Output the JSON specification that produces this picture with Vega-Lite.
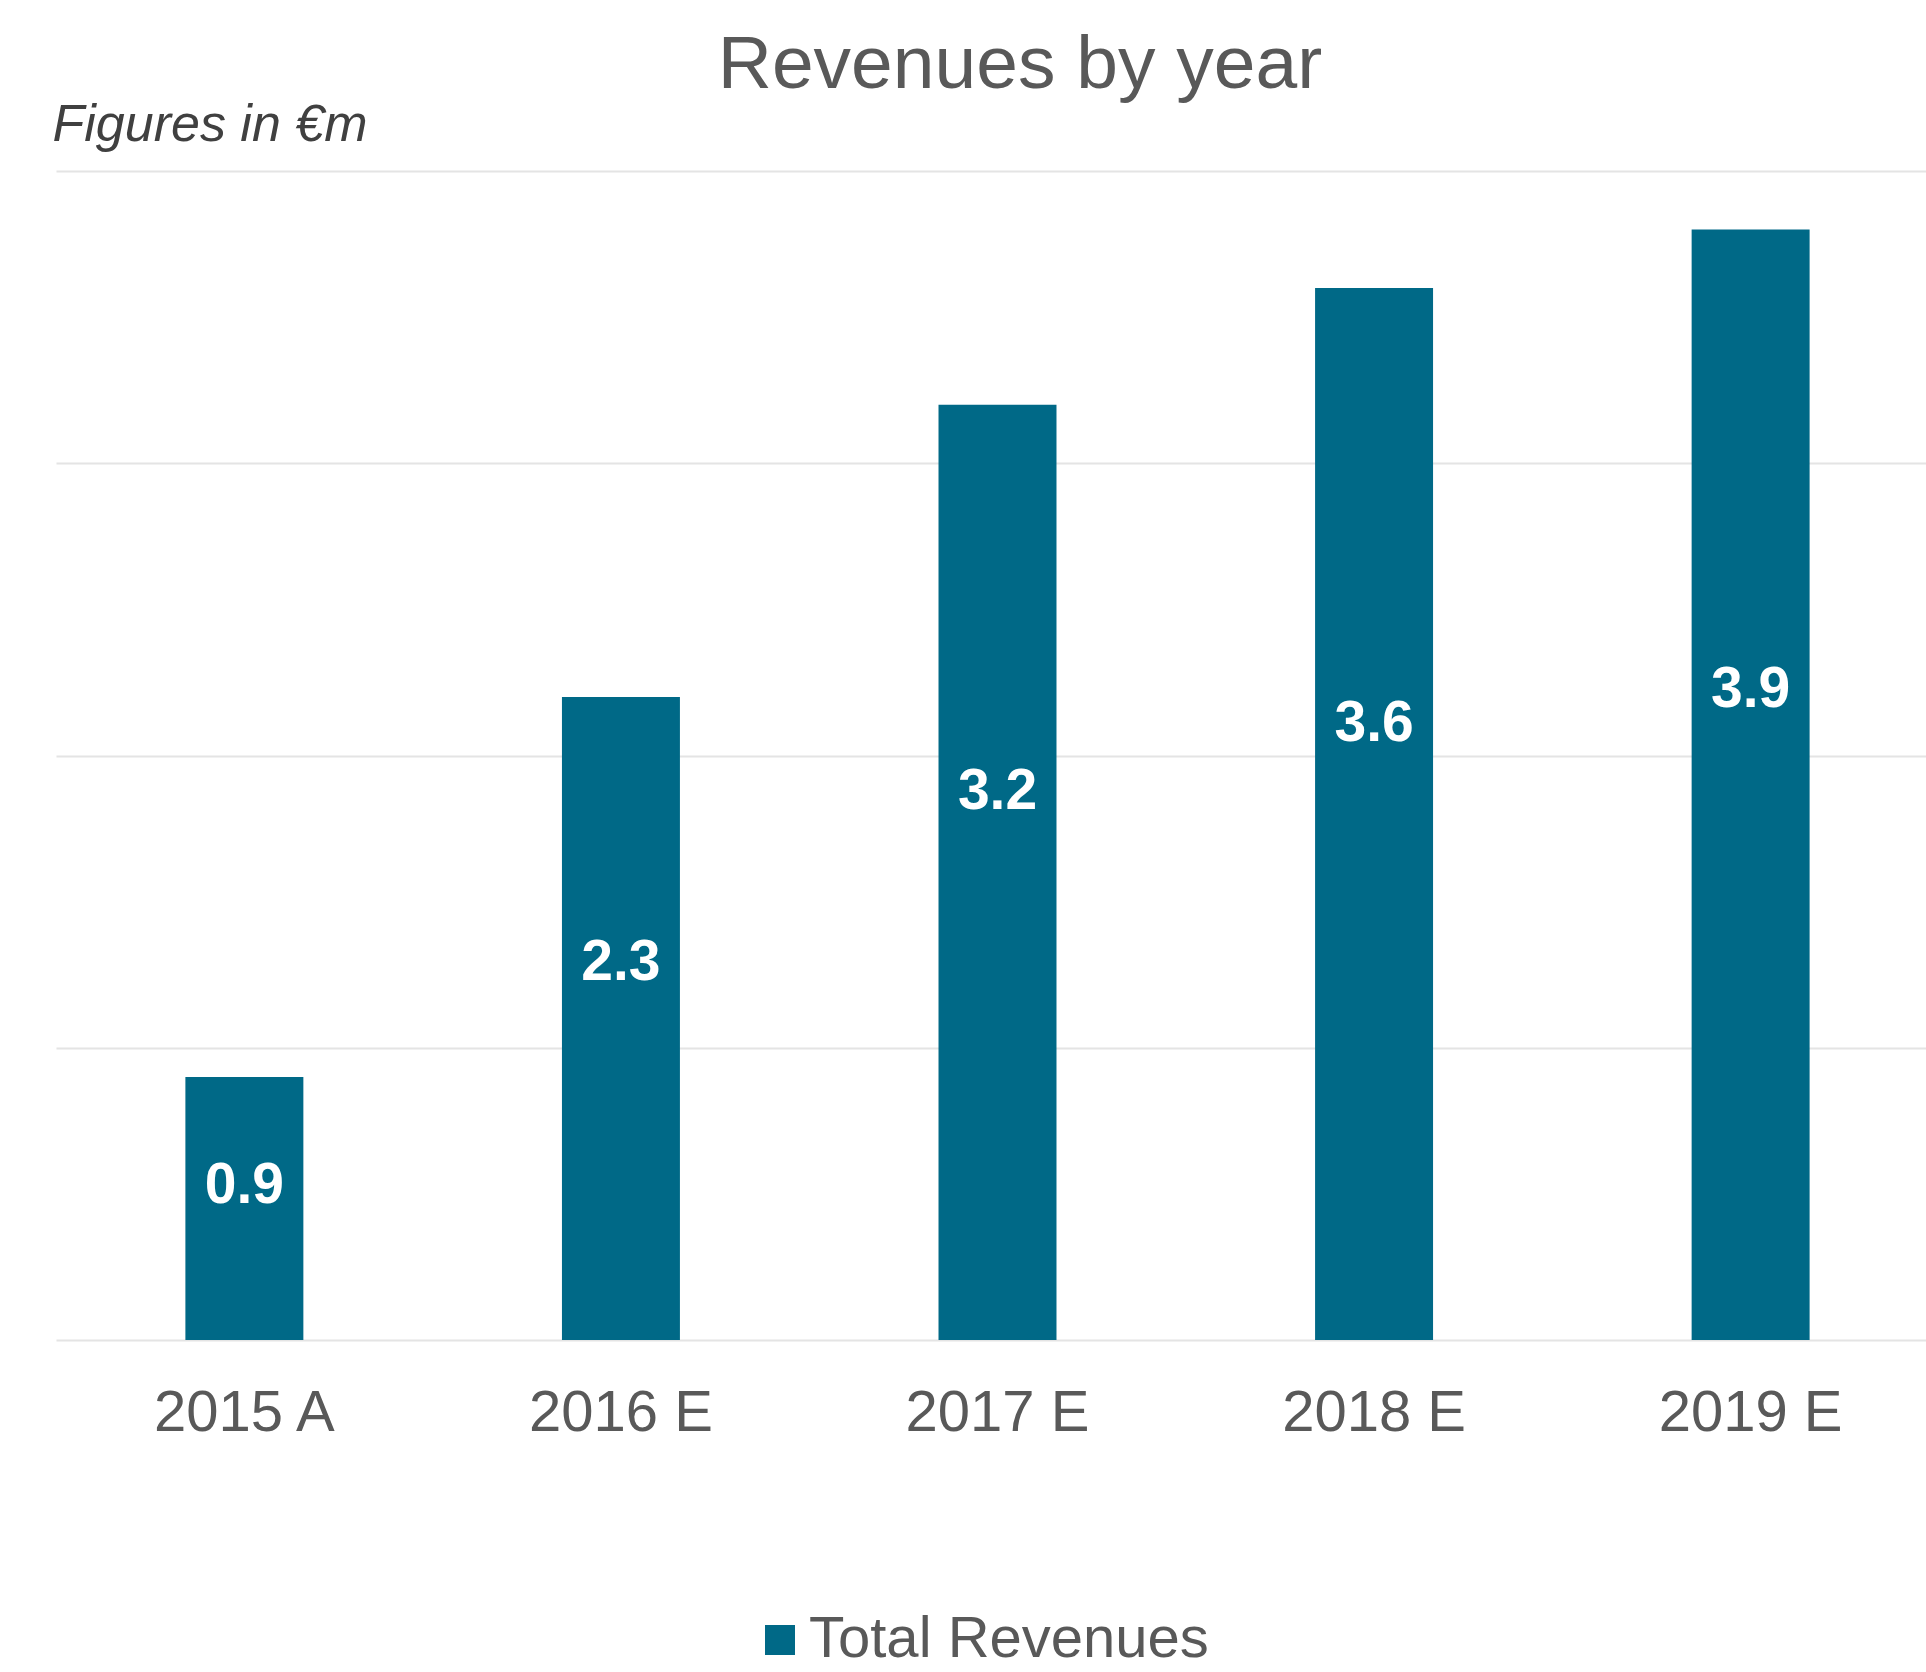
{
  "$schema": "https://vega.github.io/schema/vega-lite/v6.json",
  "autosize": {"type": "none"},
  "width": 1870,
  "height": 1169,
  "padding": {"left": 56, "top": 171, "right": 0, "bottom": 332},
  "background": "white",
  "title": {
    "text": "Revenues by year",
    "fontSize": 75,
    "font": "Liberation Sans",
    "fontWeight": "normal",
    "color": "#595959",
    "anchor": "middle",
    "dx": 29,
    "dy": 76,
    "baseline": "alphabetic",
    "offset": 11
  },
  "data": {
    "values": [
      {"year": "2015 A", "revenue": 0.9, "label": "0.9"},
      {"year": "2016 E", "revenue": 2.2, "label": "2.3"},
      {"year": "2017 E", "revenue": 3.2, "label": "3.2"},
      {"year": "2018 E", "revenue": 3.6, "label": "3.6"},
      {"year": "2019 E", "revenue": 3.8, "label": "3.9"}
    ]
  },
  "encoding": {
    "x": {
      "field": "year",
      "type": "nominal",
      "sort": null,
      "scale": {"range": [0, 1883], "paddingInner": 0.6867, "paddingOuter": 0.3436},
      "axis": {
        "title": null,
        "domain": false,
        "ticks": false,
        "tickSize": 0,
        "grid": false,
        "labelAngle": 0,
        "labelPadding": 44,
        "labelFontSize": 58,
        "labelFont": "Liberation Sans",
        "labelColor": "#595959",
        "labelBaseline": "top",
        "labelLimit": 0
      }
    }
  },
  "layer": [
    {
      "mark": {"type": "bar"},
      "encoding": {
        "y": {
          "field": "revenue",
          "type": "quantitative",
          "scale": {"domain": [0, 4], "nice": false},
          "axis": {
            "values": [0, 1, 2, 3, 4],
            "grid": true,
            "gridColor": "#e4e4e4",
            "gridWidth": 2,
            "labels": false,
            "ticks": false,
            "tickSize": 0,
            "domain": false,
            "title": "Figures in €m",
            "titleAngle": 0,
            "titleAlign": "left",
            "titleBaseline": "alphabetic",
            "titleX": -4,
            "titleY": -31,
            "titleFontSize": 52,
            "titleFont": "Liberation Sans",
            "titleFontStyle": "italic",
            "titleFontWeight": "normal",
            "titleColor": "#404040"
          }
        },
        "color": {
          "datum": "Total Revenues",
          "type": "nominal",
          "scale": {"range": ["#006987"]},
          "legend": {
            "title": null,
            "orient": "none",
            "legendX": 695,
            "legendY": 1440,
            "direction": "horizontal",
            "symbolType": "square",
            "symbolSize": 900,
            "symbolStrokeWidth": 0,
            "labelFontSize": 58,
            "labelFont": "Liberation Sans",
            "labelColor": "#595959",
            "labelOffset": 0,
            "labelLimit": 0,
            "padding": 0
          }
        }
      }
    },
    {
      "mark": {
        "type": "text",
        "color": "white",
        "font": "Liberation Sans",
        "fontWeight": "bold",
        "fontSize": 57,
        "align": "center",
        "baseline": "middle"
      },
      "encoding": {
        "y": {
          "field": "revenue",
          "type": "quantitative",
          "scale": {"domain": [0, 6.83], "nice": false},
          "axis": null
        },
        "text": {"field": "label"}
      }
    }
  ],
  "resolve": {"scale": {"y": "independent"}},
  "config": {"view": {"stroke": null}}
}
